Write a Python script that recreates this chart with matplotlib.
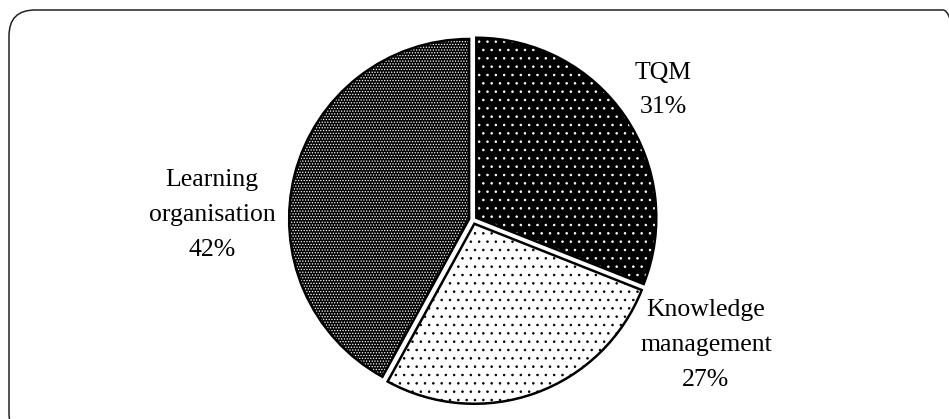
import matplotlib.pyplot as plt
from matplotlib.patches import FancyBboxPatch

labels = ["TQM", "Knowledge\nmanagement", "Learning\norganisation"]
shares = [31, 27, 42]
faces = ["black", "white", "black"]
dots = ["white", "black", "white"]
hatches = ["..", "..", "......"]
label_xy = [(663, 329), (706, 74), (212, 204)]

W, H = 949, 419
plt.rcParams["hatch.linewidth"] = 0.6
fig = plt.figure(figsize=(W / 100, H / 100), dpi=100)
ax = fig.add_axes([0, 0, 1, 1])

cx, cy, r = 473, 199, 180
explode = [4.0] * 3   # pie adds explode in data units, here pixels

# filled wedges with dotted hatch
wedges, _ = ax.pie(shares, startangle=90, counterclock=False, center=(cx, cy),
                   radius=r, explode=explode, frame=False)
for w, fc, dc, h in zip(wedges, faces, dots, hatches):
    w.set_facecolor(fc)
    w.set_edgecolor(dc)
    w.set_hatch(h)
    w.set_linewidth(0)

# outlines on top
outl, _ = ax.pie(shares, startangle=90, counterclock=False, center=(cx, cy),
                 radius=r, explode=explode, frame=False,
                 wedgeprops=dict(fill=False, edgecolor="black", linewidth=1.8))

for lab, s, (x, y) in zip(labels, shares, label_xy):
    ax.text(x, y, f"{lab}\n{s}%", ha="center", va="center", fontsize=18.5,
            family="Liberation Serif", linespacing=1.75)

frame = FancyBboxPatch((9, -20), 960, 429, boxstyle="round,pad=0,rounding_size=26",
                       fill=False, edgecolor="#222222", linewidth=1.1, clip_on=False)
ax.add_patch(frame)

ax.set_xlim(0, W)
ax.set_ylim(0, H)
ax.set_aspect("equal")
ax.axis("off")

fig.savefig("out.png", dpi=100)
